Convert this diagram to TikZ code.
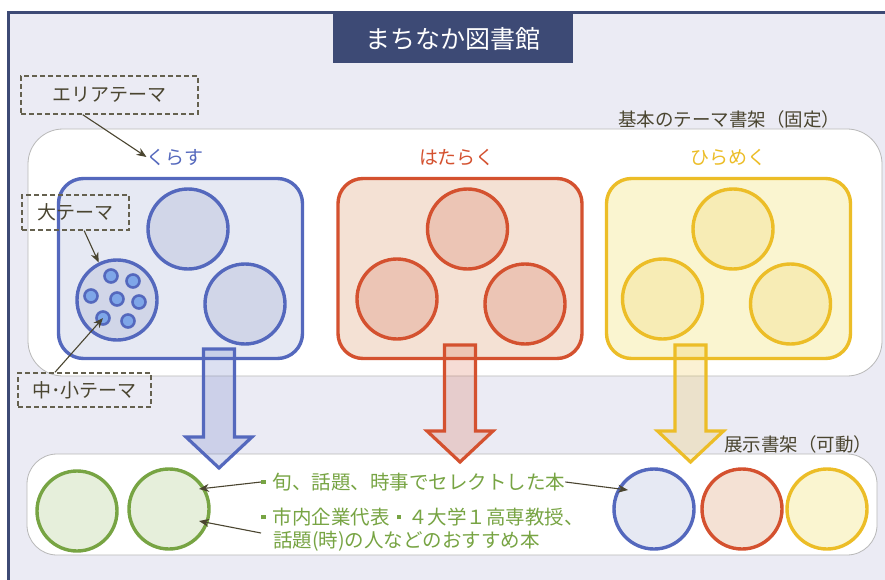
\documentclass[tikz,border=0pt]{standalone}
\usepackage{fontspec}
\setmainfont{Noto Sans CJK JP}
\usetikzlibrary{arrows.meta,calc}
\definecolor{frameblue}{HTML}{3D4A75}
\definecolor{lav}{HTML}{EBEBF4}
\definecolor{bl}{HTML}{5468BD}
\definecolor{blbox}{HTML}{E6E9F3}
\definecolor{blcirc}{HTML}{D1D6E8}
\definecolor{bldot}{HTML}{7EA6E8}
\definecolor{rd}{HTML}{D4512F}
\definecolor{rdbox}{HTML}{F4E1D4}
\definecolor{rdcirc}{HTML}{ECC5B5}
\definecolor{yl}{HTML}{ECBD27}
\definecolor{ylbox}{HTML}{FAF5D0}
\definecolor{ylcirc}{HTML}{F7ECB5}
\definecolor{gr}{HTML}{77A443}
\definecolor{grfill}{HTML}{E6EFDB}
\definecolor{ink}{HTML}{4A4530}
\definecolor{shelfline}{HTML}{B8B8B8}
\tikzset{
  themebox/.style={rectangle, rounded corners=25pt, line width=3.4pt, minimum width=244pt, minimum height=180pt, inner sep=0pt},
  bigc/.style={circle, line width=3.4pt, minimum size=80pt, inner sep=0pt},
  dotc/.style={circle, draw=bl, fill=bldot, line width=2.6pt, minimum size=13pt, inner sep=0pt},
  dashbox/.style={draw=ink!85, dashed, dash pattern=on 5pt off 3pt, line width=1.4pt, fill=none, inner sep=0pt, text=ink, font=\fontsize{19}{22}\selectfont},
  cat/.style={font=\fontsize{19}{22}\selectfont, inner sep=0pt},
  lbl/.style={font=\fontsize{18.5}{22}\selectfont, text=ink, inner sep=0pt},
  gtext/.style={font=\fontsize{19.5}{23}\selectfont, text=gr, inner sep=0pt, anchor=west},
  pointer/.style={draw=ink, line width=1.1pt, -{Stealth[length=10pt,width=8pt]}},
  blockarrow/.style={line width=3.2pt, line join=miter}
}
\newcommand{\sq}{\raisebox{5pt}{\rule{4.5pt}{4.5pt}}\hspace{7pt}}
\begin{document}
\begin{tikzpicture}[x=1pt,y=-1pt]
\useasboundingbox (0,0) rectangle (885,580);
\clip (0,0) rectangle (885,580);
% outer frame
\draw[fill=lav, draw=frameblue, line width=3pt] (8,13) rectangle (900,600);
% title
\node[fill=frameblue, minimum width=240pt, minimum height=52pt, inner sep=0pt] (titlebox) at (453,37) {};
\node[text=white, font=\fontsize{25}{28}\selectfont, inner sep=0pt] (title) at (453,39) {まちなか図書館};
% fixed shelf
\draw[fill=white, draw=shelfline, line width=0.8pt, rounded corners=35pt] (28,129) rectangle (882,376);
\node[lbl, anchor=south] (fixedlbl) at (729,128) {基本のテーマ書架（固定）};
% category labels
\node[cat, text=bl] (kurasu) at (175,157) {くらす};
\node[cat, text=rd] (hataraku) at (457,157) {はたらく};
\node[cat, text=yl] (hirameku) at (728,157) {ひらめく};
% theme boxes
\node[themebox, draw=bl, fill=blbox] (boxb) at (180.5,268.5) {};
\node[themebox, draw=rd, fill=rdbox] (boxr) at (460,268.5) {};
\node[themebox, draw=yl, fill=ylbox] (boxy) at (728.5,268.5) {};
% big circles
\node[bigc, draw=bl, fill=blcirc] (b1) at (117,300) {};
\node[bigc, draw=bl, fill=blcirc] (b2) at (188,229) {};
\node[bigc, draw=bl, fill=blcirc] (b3) at (245,304) {};
\node[bigc, draw=rd, fill=rdcirc] (r1) at (397,299) {};
\node[bigc, draw=rd, fill=rdcirc] (r2) at (467.5,229) {};
\node[bigc, draw=rd, fill=rdcirc] (r3) at (525,304) {};
\node[bigc, draw=yl, fill=ylcirc] (y1) at (662.5,299) {};
\node[bigc, draw=yl, fill=ylcirc] (y2) at (733,229) {};
\node[bigc, draw=yl, fill=ylcirc] (y3) at (790.5,304) {};
% small dots
\foreach \n/\px/\py in {1/111/276, 2/133/281, 3/91/296, 4/117/299, 5/139/302, 6/103/318, 7/128/321}
  \node[dotc] (d\n) at (\px,\py) {};
% display shelf
\draw[fill=white, draw=shelfline, line width=0.8pt, rounded corners=30pt] (27,454) rectangle (877,555);
\node[lbl, anchor=south] (displbl) at (798,453) {展示書架（可動）};
% block arrows
\foreach \cx/\top/\sh/\tip/\c in {219/349/437/468/bl, 460/345/431/462/rd, 690.5/345/431/462/yl}{
  \draw[blockarrow, draw=\c, fill=\c, fill opacity=0.2]
    (\cx-15.5,\top) -- (\cx+15.5,\top) -- (\cx+15.5,\sh) -- (\cx+33,\sh) -- (\cx,\tip)
    -- (\cx-33,\sh) -- (\cx-15.5,\sh) -- cycle;
}
% green circles
\node[bigc, draw=gr, fill=grfill] (g1) at (77,511) {};
\node[bigc, draw=gr, fill=grfill] (g2) at (169,509) {};
% display circles
\node[bigc, draw=bl, fill=blbox] (db) at (654,509) {};
\node[bigc, draw=rd, fill=rdbox] (dr) at (742,509) {};
\node[bigc, draw=yl, fill=ylbox] (dy) at (827,509) {};
% green texts
\node[gtext] (t1) at (261,482) {\sq 旬、話題、時事でセレクトした本};
\node[gtext] (t2) at (261,517) {\sq 市内企業代表\hspace{7pt}\sq ４大学１高専教授、};
\node[gtext] (t3) at (273,541) {話題(時)の人などのおすすめ本};
% annotation boxes
\node[dashbox, minimum width=177pt, minimum height=38pt] (area) at (109.5,95) {エリアテーマ};
\node[dashbox, minimum width=107pt, minimum height=35pt] (large) at (75.5,212.5) {大テーマ};
\node[dashbox, minimum width=133pt, minimum height=34pt] (mid) at (84.5,390) {中･小テーマ};
% pointers
\coordinate (areafoot) at ($(area.south west)!0.35!(area.south east)$);
\draw[pointer] (areafoot) -- (kurasu.west);
\coordinate (largefoot) at ($(large.south west)!0.58!(large.south east)$);
\draw[pointer] (largefoot) -- (b1.116);
\coordinate (midtop) at ($(mid.north west)!0.28!(mid.north east)$);
\draw[pointer] (midtop) -- (d6.center);
\coordinate (g2a) at ($(g2)+(30,-20)$);
\coordinate (g2b) at ($(g2)+(30,12)$);
\coordinate (dba) at ($(db)+(-26,-19)$);
\draw[pointer] (t1.west) -- (g2a);
\draw[pointer] ($(t2.west)+(0,16)$) -- (g2b);
\draw[pointer] (t1.east) -- (dba);
\end{tikzpicture}
\end{document}
